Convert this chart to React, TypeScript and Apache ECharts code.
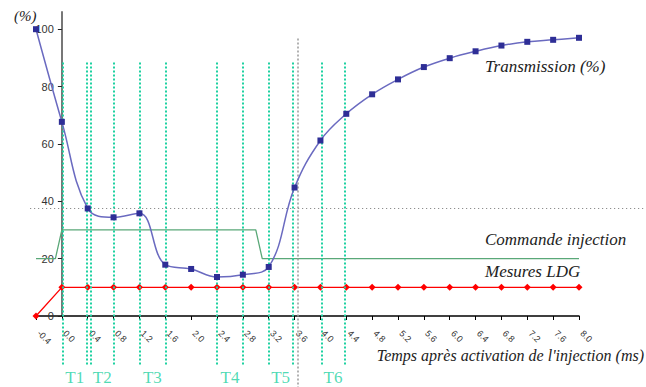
import React, { useEffect, useRef } from "react";
import * as echarts from "echarts";

// ---- data ----
const timeValues = [-0.4, 0.0, 0.4, 0.8, 1.2, 1.6, 2.0, 2.4, 2.8, 3.2, 3.6, 4.0, 4.4, 4.8, 5.2, 5.6, 6.0, 6.4, 6.8, 7.2, 7.6, 8.0];
const transmission = [100, 67.7, 37.5, 34.4, 35.8, 17.9, 16.4, 13.6, 14.4, 17.1, 44.8, 61.2, 70.5, 77.3, 82.5, 86.8, 89.9, 92.3, 94.3, 95.6, 96.3, 97.0];
const mesuresLDG = [0, 10, 10, 10, 10, 10, 10, 10, 10, 10, 10, 10, 10, 10, 10, 10, 10, 10, 10, 10, 10, 10];
const commandeTimes = [-0.4, -0.1, 0.0, 3.0, 3.1, 8.0];
const commandeValues = [20, 20, 30, 30, 20, 20];
const phaseLabels = ["T1", "T2", "T3", "T4", "T5", "T6"];
const phaseStarts = [0.02, 0.45, 1.2, 2.4, 3.2, 4.02];
const phaseEnds = [0.38, 0.8, 1.6, 2.8, 3.57, 4.37];
const phaseLineTop = 88.4;
const phaseLineBottom = -17.1;
const phaseLabelLevel = -21.6;
const yTickValues = [0, 20, 40, 60, 80, 100];
const refLevel = 37.5;
const refLevelStart = -0.49;
const refTime = 3.65;
const refTimeTop = 96.8;

const X_MIN = -0.4;
const X_MAX = 8.0;
const X_STEP = 0.4;
const Y_MIN = 0;
const Y_MAX = 106;
const Y_STEP = 20;

// ---- layout ----
const W = 646;
const H = 387;
const G_LEFT = 36;
const G_RIGHT = 67;
const G_TOP = 12;
const G_BOTTOM = 71;

const pxPerX = (W - G_LEFT - G_RIGHT) / (X_MAX - X_MIN);
const pxPerY = (H - G_TOP - G_BOTTOM) / (Y_MAX - Y_MIN);
const OV_X_MIN = X_MIN - G_LEFT / pxPerX;
const OV_X_MAX = X_MAX + G_RIGHT / pxPerX;
const OV_Y_MIN = Y_MIN - G_BOTTOM / pxPerY;
const OV_Y_MAX = Y_MAX + G_TOP / pxPerY;
// the y axis stands at x = 0 of the time axis
const Y_AXIS_LEFT = G_LEFT + (0 - X_MIN) * pxPerX;

const SERIF = "'Liberation Serif', serif";
const SANS = "'Liberation Sans', Arial, sans-serif";
const TEAL = "#1fd1a1";
const TEXT = "#222";

export default function App() {
  const ref = useRef<HTMLDivElement>(null);

  useEffect(() => {
    if (!ref.current) return;
    const chart = echarts.init(ref.current, undefined, { renderer: "svg" });

    const phaseLines: any[] = [];
    phaseStarts.forEach((s, i) => {
      [s, phaseEnds[i]].forEach((x) => {
        phaseLines.push([
          { coord: [x, phaseLineTop], lineStyle: { color: TEAL, width: 2, type: [2, 2] } },
          { coord: [x, phaseLineBottom] },
        ]);
      });
    });
    const grayLines: any[] = [
      [
        { coord: [refLevelStart, refLevel], lineStyle: { color: "#777", width: 1, type: [1, 3] } },
        { coord: [OV_X_MAX, refLevel] },
      ],
      [
        { coord: [refTime, refTimeTop], lineStyle: { color: "#999", width: 1.5, type: [2, 2] } },
        { coord: [refTime, OV_Y_MIN] },
      ],
    ];

    const option: any = {
      animation: false,
      backgroundColor: "#fff",
      grid: [
        { left: G_LEFT, right: G_RIGHT, top: G_TOP, bottom: G_BOTTOM },
        { left: 0, right: 0, top: 0, bottom: 0 },
        { left: Y_AXIS_LEFT, right: G_RIGHT, top: G_TOP, bottom: G_BOTTOM },
      ],
      xAxis: [
        {
          type: "value",
          gridIndex: 0,
          min: X_MIN,
          max: X_MAX,
          interval: X_STEP,
          splitLine: { show: false },
          axisLine: { onZero: false, lineStyle: { color: "#000", width: 1.5 } },
          axisTick: { show: true, length: 4, lineStyle: { color: "#000" } },
          axisLabel: {
            rotate: -45,
            margin: 13,
            padding: [0, 0, 0, 4],
            fontSize: 9,
            fontFamily: SANS,
            color: "#333",
            showMinLabel: true,
            showMaxLabel: true,
            formatter: (v: number) => (Math.abs(v) < 1e-9 ? "0.0" : v.toFixed(1)),
          },
        },
        { type: "value", gridIndex: 1, min: OV_X_MIN, max: OV_X_MAX, show: false },
        { type: "value", gridIndex: 2, min: 0, max: X_MAX, show: false },
      ],
      yAxis: [
        { type: "value", gridIndex: 0, min: Y_MIN, max: Y_MAX, show: false },
        { type: "value", gridIndex: 1, min: OV_Y_MIN, max: OV_Y_MAX, show: false },
        {
          type: "value",
          gridIndex: 2,
          min: Y_MIN,
          max: Y_MAX,
          interval: Y_STEP,
          position: "left",
          splitLine: { show: false },
          axisLine: { show: true, onZero: false, lineStyle: { color: "#777", width: 2 } },
          axisTick: { show: true, length: 4, customValues: yTickValues, lineStyle: { color: "#222" } },
          axisLabel: {
            margin: 8,
            fontSize: 11,
            fontFamily: SANS,
            color: "#333",
            customValues: yTickValues,
            formatter: (v: number) => (v % Y_STEP === 0 && v <= 100 ? String(v) : ""),
          },
        },
      ],
      series: [
        {
          name: "Commande injection",
          type: "line",
          xAxisIndex: 0,
          yAxisIndex: 0,
          data: commandeTimes.map((t, i) => [t, commandeValues[i]]),
          showSymbol: false,
          symbol: "none",
          lineStyle: { color: "#5aa878", width: 1.3 },
          z: 3,
        },
        {
          name: "Mesures LDG",
          type: "line",
          xAxisIndex: 0,
          yAxisIndex: 0,
          data: timeValues.map((t, i) => [t, mesuresLDG[i]]),
          symbol: "diamond",
          symbolSize: 7,
          itemStyle: { color: "#ff0000" },
          lineStyle: { color: "#ff0000", width: 1.3 },
          clip: false,
          z: 4,
        },
        {
          name: "Transmission (%)",
          type: "line",
          xAxisIndex: 0,
          yAxisIndex: 0,
          data: timeValues.map((t, i) => [t, transmission[i]]),
          smooth: 0.4,
          symbol: "rect",
          symbolSize: 6,
          itemStyle: { color: "#2e2e96" },
          lineStyle: { color: "#6a6ac0", width: 1.5 },
          clip: false,
          z: 5,
        },
        {
          name: "phases",
          type: "scatter",
          xAxisIndex: 1,
          yAxisIndex: 1,
          symbolSize: 0,
          silent: true,
          data: phaseStarts.map((s, i) => [(s + phaseEnds[i]) / 2, phaseLabelLevel]),
          label: {
            show: true,
            position: "inside",
            formatter: (p: any) => phaseLabels[p.dataIndex],
            color: TEAL,
            fontFamily: SERIF,
            fontSize: 17,
          },
          markLine: {
            silent: true,
            symbol: ["none", "none"],
            label: { show: false },
            data: [...phaseLines, ...grayLines],
          },
          z: 2,
        },
      ],
      graphic: [
        {
          type: "text",
          left: 14,
          top: 8,
          style: { text: "(%)", fill: TEXT, font: "italic 15px 'Liberation Serif'" },
        },
        {
          type: "text",
          left: 485,
          top: 58,
          style: { text: "Transmission (%)", fill: TEXT, font: "italic 17px 'Liberation Serif'" },
        },
        {
          type: "text",
          left: 485,
          top: 231,
          style: { text: "Commande injection", fill: TEXT, font: "italic 17px 'Liberation Serif'" },
        },
        {
          type: "text",
          left: 485,
          top: 263,
          style: { text: "Mesures LDG", fill: TEXT, font: "italic 17px 'Liberation Serif'" },
        },
        {
          type: "text",
          right: 2,
          top: 347,
          style: {
            text: "Temps après activation de l'injection (ms)",
            fill: TEXT,
            font: "italic 16px 'Liberation Serif'",
          },
        },
      ],
    };

    chart.setOption(option);
    return () => chart.dispose();
  }, []);

  return (
    <div style={{ position: "fixed", left: 0, top: 0, width: W, height: H, background: "#fff" }}>
      <div ref={ref} style={{ width: W, height: H }} />
    </div>
  );
}
